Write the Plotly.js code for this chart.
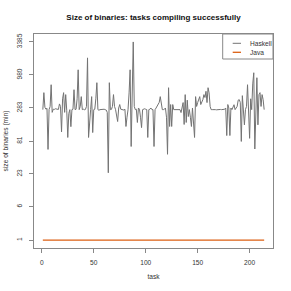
<!DOCTYPE html>
<html>
<head>
<meta charset="utf-8">
<script src="https://cdn.plot.ly/plotly-3.0.1.min.js"></script>
<style>html,body{margin:0;padding:0;background:#fff;}#chart{width:291px;height:291px;}</style>
</head>
<body>
<div id="chart"></div>
<script>
// Haskell binary sizes per task
const haskell = [
  266,504,290,270,280,59,266,300,679,240,
  270,268,275,270,272,268,330,300,115,400,
  504,240,468,260,93,230,266,140,266,270,
  563,266,270,400,1189,266,300,434,266,270,
  265,268,300,1862,93,200,266,434,112,266,
  270,400,733,266,260,266,268,264,266,270,
  266,262,240,24,733,266,268,300,468,300,
  266,200,170,283,322,270,266,266,262,270,
  141,200,266,500,1189,66,600,3385,300,266,
  270,164,283,270,200,135,266,270,275,270,
  266,93,266,270,283,266,266,66,266,283,
  300,322,350,434,300,266,266,270,283,200,
  49,607,141,322,141,322,266,266,268,264,
  266,270,266,238,300,347,152,468,164,380,
  205,266,200,141,283,150,93,434,300,347,
  388,434,322,350,388,468,420,530,347,607,
  500,300,266,266,268,266,266,264,266,266,
  266,268,266,266,266,270,283,100,322,283,
  100,283,266,300,320,266,283,300,380,388,
  350,80,450,300,150,266,300,679,200,90,
  400,266,700,1064,60,400,883,150,468,504,
  300,468,388,266
];
// Java binary sizes per task
const java = [
  1,1,1,1,1,1,1,1,1,1, 1,1,1,1,1,1,1,1,1,1,
  1,1,1,1,1,1,1,1,1,1, 1,1,1,1,1,1,1,1,1,1,
  1,1,1,1,1,1,1,1,1,1, 1,1,1,1,1,1,1,1,1,1,
  1,1,1,1,1,1,1,1,1,1, 1,1,1,1,1,1,1,1,1,1,
  1,1,1,1,1,1,1,1,1,1, 1,1,1,1,1,1,1,1,1,1,
  1,1,1,1,1,1,1,1,1,1, 1,1,1,1,1,1,1,1,1,1,
  1,1,1,1,1,1,1,1,1,1, 1,1,1,1,1,1,1,1,1,1,
  1,1,1,1,1,1,1,1,1,1, 1,1,1,1,1,1,1,1,1,1,
  1,1,1,1,1,1,1,1,1,1, 1,1,1,1,1,1,1,1,1,1,
  1,1,1,1,1,1,1,1,1,1, 1,1,1,1,1,1,1,1,1,1,
  1,1,1,1,1,1,1,1,1,1, 1,1,1,1
];
const seriesNames = ["Haskell", "Java"];
const yTickLabels = [1, 6, 23, 81, 283, 980, 3385];
const xTickValues = [0, 50, 100, 150, 200];

const tasks = haskell.map((_, i) => i + 1);
const shift = v => v + 1; // chart uses a log(1 + size) scale

const colors = ["#737373", "#DC5F12"];
const font = "Liberation Sans, Arial, Helvetica, sans-serif";

const traces = [
  {x: tasks, y: haskell.map(shift), type: "scatter", mode: "lines", name: seriesNames[0],
   line: {color: colors[0], width: 1}, showlegend: false, hoverinfo: "skip"},
  {x: tasks, y: java.map(shift), type: "scatter", mode: "lines", name: seriesNames[1],
   line: {color: colors[1], width: 1.3}, showlegend: false, hoverinfo: "skip"}
];

// plot area in px: x 34..273, y 34..248
const L = 34, R = 273, T = 34, B = 248;
const px = v => (v - L) / (R - L);
const py = v => (B - v) / (B - T);

const layout = {
  width: 291, height: 291,
  margin: {l: L, r: 291 - R, t: T, b: 291 - B},
  paper_bgcolor: "#fff", plot_bgcolor: "#fff",
  font: {family: font, size: 6.6, color: "#333"},
  title: {text: "<b>Size of binaries: tasks compiling successfully</b>",
          font: {family: font, size: 8, color: "#111"},
          x: 0.5, xref: "paper", y: 1 - 17.5/291, yref: "container", yanchor: "middle"},
  xaxis: {range: [-7.5, 222.5], tickvals: xTickValues, ticks: "outside", ticklen: 4,
          tickcolor: "#888", tickwidth: 1, showline: true, mirror: true, linecolor: "#888",
          linewidth: 1, showgrid: false, zeroline: false, ticklabelstandoff: 4,
          title: {text: "task", font: {family: font, size: 6.6, color: "#333"}, standoff: 9}},
  yaxis: {type: "log", range: [0.172, 3.659], tickvals: yTickLabels.map(shift),
          ticktext: yTickLabels.map(String), tickangle: -90, ticks: "outside", ticklen: 4,
          tickcolor: "#888", tickwidth: 1, showline: true, mirror: true, linecolor: "#888",
          linewidth: 1, showgrid: false, zeroline: false, ticklabelstandoff: 4,
          title: {text: "size of binaries (min)", font: {family: font, size: 6.6, color: "#333"}, standoff: 7}},
  shapes: [
    {type: "rect", xref: "paper", yref: "paper", x0: px(222.7), x1: px(273), y0: py(59), y1: py(34),
     line: {color: "#888", width: 1}, fillcolor: "#fff"},
    {type: "line", xref: "paper", yref: "paper", x0: px(232.7), x1: px(241), y0: py(43.3), y1: py(43.3),
     line: {color: colors[0], width: 1}},
    {type: "line", xref: "paper", yref: "paper", x0: px(232.7), x1: px(241), y0: py(52.3), y1: py(52.3),
     line: {color: colors[1], width: 1.3}}
  ],
  annotations: [
    {text: seriesNames[0], xref: "paper", yref: "paper", x: px(248), y: py(43.3), xanchor: "left",
     yanchor: "middle", showarrow: false, font: {family: font, size: 6.6, color: "#333"}},
    {text: seriesNames[1], xref: "paper", yref: "paper", x: px(248), y: py(52.3), xanchor: "left",
     yanchor: "middle", showarrow: false, font: {family: font, size: 6.6, color: "#333"}}
  ]
};

Plotly.newPlot("chart", traces, layout, {staticPlot: true, displayModeBar: false});
</script>
</body>
</html>
